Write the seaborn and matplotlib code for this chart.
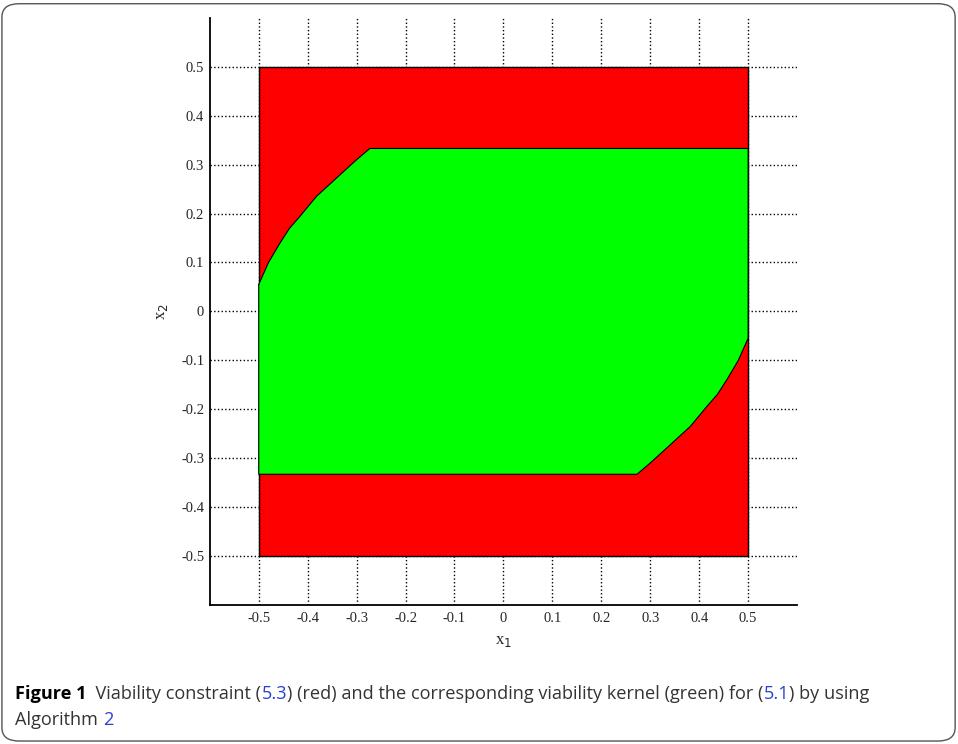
import numpy as np
import seaborn as sns
import matplotlib.pyplot as plt
from matplotlib.patches import FancyBboxPatch, Rectangle
from matplotlib.transforms import IdentityTransform

# viability constraint box (red)
x1_lim = 0.5
x2_lim = 0.5
# viability kernel (green): flat level and upper-left curved boundary
x2_flat = 0.333
curve_x1 = [-0.5, -0.48, -0.457, -0.437, -0.416, -0.382, -0.334, -0.30, -0.273]
curve_x2 = [0.055, 0.10, 0.139, 0.17, 0.194, 0.235, 0.279, 0.31, 0.333]

ticks = [-0.5, -0.4, -0.3, -0.2, -0.1, 0, 0.1, 0.2, 0.3, 0.4, 0.5]
tick_labels = ["-0.5", "-0.4", "-0.3", "-0.2", "-0.1", "0", "0.1", "0.2", "0.3", "0.4", "0.5"]

sns.set_style("white")
plt.rcParams["font.family"] = ["Liberation Serif", "DejaVu Serif"]

fig = plt.figure(figsize=(9.58, 7.44), dpi=100)
ax = fig.add_axes([0.219, 0.187, 0.613, 0.789])

# kernel polygon: upper-left curve, top flat, right side, mirrored lower-right curve, bottom flat
cx = np.array(curve_x1)
cy = np.array(curve_x2)
poly_x = list(cx) + [x1_lim] + list(-cx) + [-x1_lim]
poly_y = list(cy) + [x2_flat] + list(-cy) + [-x2_flat]

ax.add_patch(Rectangle((-x1_lim, -x2_lim), 2 * x1_lim, 2 * x2_lim,
                       facecolor="#ff0000", edgecolor="black", lw=1.0, zorder=1))
ax.fill(poly_x, poly_y, color="#00ff00", lw=0, zorder=2)
# only the curved edges and the flat edges get a thin black outline
sns.lineplot(x=poly_x + [poly_x[0]], y=poly_y + [poly_y[0]], sort=False,
             estimator=None, color="black", lw=0.8, ax=ax, zorder=3)

ax.set_xlim(-0.6, 0.6)
ax.set_ylim(-0.6, 0.6)
ax.set_xticks(ticks)
ax.set_xticklabels(tick_labels)
ax.set_yticks(ticks)
ax.set_yticklabels(tick_labels)
ax.tick_params(direction="in", length=5, width=1, labelsize=10.5, color="black")
ax.tick_params(axis="x", pad=5)
ax.tick_params(axis="y", pad=4)
ax.set_axisbelow(True)
ax.grid(True, linestyle=":", color="black", lw=1)

for side in ["top", "right"]:
    ax.spines[side].set_visible(False)
for side in ["left", "bottom"]:
    ax.spines[side].set_color("black")
    ax.spines[side].set_linewidth(1.3)

ax.set_xlabel("x$_1$", fontsize=12, labelpad=6)
ax.set_ylabel("x$_2$", fontsize=12, labelpad=8)

# rounded frame round the whole figure
fig.patches.append(FancyBboxPatch((0.002, 0.004), 0.995, 0.991,
                                  boxstyle="round,pad=0,rounding_size=0.018",
                                  transform=fig.transFigure, fill=False,
                                  ec="#555555", lw=1.0))

# caption, drawn piece by piece so the references can be blue
blue = "#2a3fd6"
lines = [
    [("Figure 1", "black", "bold"), ("  Viability constraint (", "#333333", "normal"),
     ("5.3", blue, "normal"), (") (red) and the corresponding viability kernel (green) for (", "#333333", "normal"),
     ("5.1", blue, "normal"), (") by using", "#333333", "normal")],
    [("Algorithm ", "#333333", "normal"), ("2", blue, "normal")],
]
renderer = fig.canvas.get_renderer()
y_px = 744 - 699
for line in lines:
    x_px = 15
    for txt, col, wt in line:
        t = fig.text(x_px, y_px, txt, transform=IdentityTransform(), color=col,
                     fontweight=wt, fontsize=13.1, family=["Open Sans", "DejaVu Sans"],
                     va="baseline", ha="left")
        x_px += t.get_window_extent(renderer).width
    y_px -= 26

fig.savefig("out.png", dpi=100)
